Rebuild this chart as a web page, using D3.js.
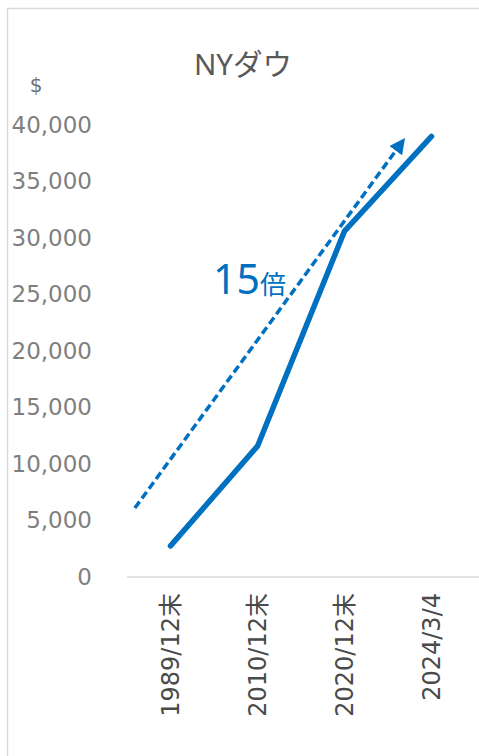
<!DOCTYPE html>
<html><head><meta charset="utf-8">
<script src="https://cdn.jsdelivr.net/npm/d3@7"></script>
<style>html,body{margin:0;padding:0;background:#fff;}svg{display:block;}</style>
</head><body>
<svg id="c" width="479" height="756"></svg>
<script>
const categories = ["1989/12末", "2010/12末", "2020/12末", "2024/3/4"];
const values = [2753, 11577, 30606, 38989];
const yTicks = [0, 5000, 10000, 15000, 20000, 25000, 30000, 35000, 40000];
const arrowFrom = {i: -0.41, v: 6100};
const arrowTo = {i: 2.71, v: 39000};
const titleText = "NYダウ";
const unitText = "$";
const annotNum = "15";
const annotUnit = "倍";

const svg = d3.select("#c");
const color = "#0070C0";
const font = "'Noto Sans', 'Noto Sans CJK JP', sans-serif";
const tickFont = "'DejaVu Sans', 'Noto Sans CJK JP', sans-serif";

// frame
svg.append("rect").attr("x", 7.5).attr("y", 8.5).attr("width", 490).attr("height", 770)
  .attr("fill", "#fff").attr("stroke", "#d9d9d9").attr("stroke-width", 1.5);

const x = d3.scalePoint().domain(categories).range([127, 475]).padding(0.5);
const xi = d3.scaleLinear().domain([0, categories.length - 1])
  .range([x(categories[0]), x(categories[categories.length - 1])]);
const y = d3.scaleLinear().domain([0, 40000]).range([577, 125]);

// title
svg.append("text").attr("x", 243).attr("y", 75).attr("text-anchor", "middle")
  .attr("font-family", font).attr("font-size", 29.5).attr("fill", "#595959").text(titleText);
svg.append("text").attr("x", 36).attr("y", 92).attr("text-anchor", "middle")
  .attr("font-family", tickFont).attr("font-size", 20).attr("fill", "#6f6f6f").text(unitText);

// y axis labels
const yAxis = d3.axisLeft(y).tickValues(yTicks).tickSize(0).tickPadding(0)
  .tickFormat(d3.format(","));
const gy = svg.append("g").attr("transform", "translate(92,0)").call(yAxis);
gy.select(".domain").remove();
gy.selectAll("text").attr("font-family", tickFont).attr("font-size", 23).attr("fill", "#7f7f7f");

// x axis
const xAxis = d3.axisBottom(x).tickSize(0).tickPadding(0);
const gx = svg.append("g").attr("transform", "translate(0,577)").call(xAxis);
gx.select(".domain").remove();
svg.append("line").attr("x1", 127).attr("x2", 479).attr("y1", 577).attr("y2", 577)
  .attr("stroke", "#d9d9d9").attr("stroke-width", 1.5);
gx.selectAll("text")
  .attr("font-family", tickFont).attr("font-size", 24).attr("fill", "#4a4a4a")
  .attr("text-anchor", "end").attr("dy", null)
  .attr("transform", "translate(0,16) rotate(-90)")
  .attr("x", 0).attr("y", 0).attr("dominant-baseline", "central");

// line
const line = d3.line().x((d, i) => x(categories[i])).y(d => y(d));
svg.append("path").datum(values).attr("d", line).attr("fill", "none")
  .attr("stroke", color).attr("stroke-width", 5.5).attr("stroke-linecap", "round")
  .attr("stroke-linejoin", "round");

// arrow
svg.append("defs").append("marker").attr("id", "ah").attr("viewBox", "0 0 10 10")
  .attr("refX", 5).attr("refY", 5).attr("markerWidth", 4.5).attr("markerHeight", 4.5)
  .attr("orient", "auto").attr("markerUnits", "strokeWidth")
  .append("path").attr("d", "M0,0 L10,5 L0,10 z").attr("fill", color);
const ax1 = xi(arrowFrom.i), ay1 = y(arrowFrom.v), ax2 = xi(arrowTo.i), ay2 = y(arrowTo.v);
const len = Math.hypot(ax2 - ax1, ay2 - ay1);
const ux = (ax2 - ax1) / len, uy = (ay2 - ay1) / len;
svg.append("line").attr("x1", ax1).attr("y1", ay1)
  .attr("x2", ax2 - ux * 10).attr("y2", ay2 - uy * 10)
  .attr("stroke", color).attr("stroke-width", 3.5).attr("stroke-dasharray", "8,4")
  .attr("marker-end", "url(#ah)");

// annotation
const t = svg.append("text").attr("x", 213).attr("y", 294).attr("font-family", font)
  .attr("fill", color);
t.append("tspan").attr("font-size", 41).text(annotNum);
t.append("tspan").attr("font-size", 26).text(annotUnit);
</script>
</body></html>
